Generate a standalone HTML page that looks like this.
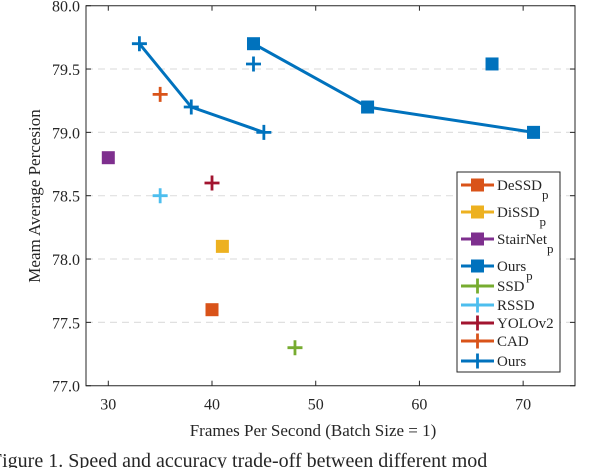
<!DOCTYPE html>
<html><head><meta charset="utf-8"><style>
html,body{margin:0;padding:0;background:#fff;overflow:hidden}
svg, svg text{font-family:"Liberation Serif","Times New Roman",serif}
svg text{fill:#262626}
</style></head><body>
<svg id="chart" width="610" height="468" viewBox="0 0 610 468" xmlns="http://www.w3.org/2000/svg" font-family="Liberation Serif, serif">
<g id="grid"></g>
<g id="marks"></g>
<g id="axes"></g>
<text x="313" y="436" font-size="17" font-family="Liberation Serif, serif" text-anchor="middle">Frames Per Second (Batch Size = 1)</text>
<text transform="translate(40,196) rotate(-90)" font-size="17" font-family="Liberation Serif, serif" text-anchor="middle">Meam Average Percesion</text>
<text x="-9" y="467" font-size="20" font-family="Liberation Serif, serif">Figure 1. Speed and accuracy trade-off between different mod</text>
<g id="legend"></g>
</svg>
<script>
const xTicks=[30,40,50,60,70];
const yTicks=[77.0,77.5,78.0,78.5,79.0,79.5,80.0];
const seriesNames=["DeSSD_p","DiSSD_p","StairNet_p","Ours_p","SSD","RSSD","YOLOv2","CAD","Ours"];
const seriesColors=["#D95319","#EDB120","#7E2F8E","#0072BD","#77AC30","#4DBEEE","#A2142F","#D95319","#0072BD"];
const seriesMarker=["sq","sq","sq","sq","plus","plus","plus","plus","plus"];
const deX=[40],deY=[77.6];
const diX=[41],diY=[78.1];
const stX=[30],stY=[78.8];
const oursPLineX=[44,55,71],oursPLineY=[79.7,79.2,79.0];
const oursPExtraX=[67],oursPExtraY=[79.54];
const ssdX=[48],ssdY=[77.3];
const rssdX=[35],rssdY=[78.5];
const yoloX=[40],yoloY=[78.6];
const cadX=[35],cadY=[79.3];
const oursLineX=[33,38,45],oursLineY=[79.7,79.2,79.0];
const oursExtraX=[44],oursExtraY=[79.54];

const L=86,R=575,T=5.7,B=385.7,XMIN=27.85,XMAX=75,YMIN=77,YMAX=80;
const FF="Liberation Serif, serif";
const sx=v=>L+(v-XMIN)/(XMAX-XMIN)*(R-L);
const sy=v=>B-(v-YMIN)/(YMAX-YMIN)*(B-T);
const NS="http://www.w3.org/2000/svg";
function mk(tag,attrs,parent){const e=document.createElementNS(NS,tag);for(const k in attrs)e.setAttribute(k,attrs[k]);parent.appendChild(e);return e;}
const grid=document.getElementById('grid'),marks=document.getElementById('marks'),axes=document.getElementById('axes'),leg=document.getElementById('legend');
yTicks.forEach(v=>{if(v>YMIN&&v<YMAX){const g=mk('line',{x1:L,x2:R,y1:sy(v),y2:sy(v),stroke:'#e0e0e0','stroke-width':1.2,'stroke-dasharray':'7,5'},grid);

}});
const frame=mk('path',{d:`M${L},${T}H${R}V${B}H${L}Z`,fill:'none',stroke:'#262626','stroke-width':1},axes);


xTicks.forEach(v=>{const x=sx(v);
mk('line',{x1:x,x2:x,y1:B,y2:B-5,stroke:'#262626'},axes);mk('line',{x1:x,x2:x,y1:T,y2:T+5,stroke:'#262626'},axes);
const t=mk('text',{x:x,y:B+24,'font-size':16,'font-family':FF,'text-anchor':'middle'},axes);t.textContent=v;

});
yTicks.forEach(v=>{const y=sy(v);
mk('line',{x1:L,x2:L+5,y1:y,y2:y,stroke:'#262626'},axes);mk('line',{x1:R,x2:R-5,y1:y,y2:y,stroke:'#262626'},axes);
const t=mk('text',{x:L-6,y:y+6,'font-size':16,'font-family':FF,'text-anchor':'end'},axes);t.textContent=v.toFixed(1);

});
function sq(x,y,c,p,s){return mk('rect',{x:x-s/2,y:y-s/2,width:s,height:s,fill:c},p);}
function plus(x,y,c,p,s){const g=mk('g',{},p);mk('path',{d:`M${x-s/2},${y}H${x+s/2}M${x},${y-s/2}V${y+s/2}`,stroke:c,'stroke-width':2.8,fill:'none'},g);return g;}
function line(xs,ys,c,name){const l=mk('polyline',{points:xs.map((v,i)=>sx(v)+','+sy(ys[i])).join(' '),fill:'none',stroke:c,'stroke-width':3},marks);

}
line(oursPLineX,oursPLineY,"#0072BD",'ours-p-line');
line(oursLineX,oursLineY,"#0072BD",'ours-line');
const groups=[[deX,deY,0],[diX,diY,1],[stX,stY,2],[oursPLineX,oursPLineY,3],[oursPExtraX,oursPExtraY,3],[ssdX,ssdY,4],[rssdX,rssdY,5],[yoloX,yoloY,6],[cadX,cadY,7],[oursLineX,oursLineY,8],[oursExtraX,oursExtraY,8]];
groups.forEach(([xs,ys,k])=>xs.forEach((v,i)=>{const e=seriesMarker[k]==='sq'?sq(sx(v),sy(ys[i]),seriesColors[k],marks,13):plus(sx(v),sy(ys[i]),seriesColors[k],marks,15);

}));
const box=mk('rect',{x:457,y:172,width:103,height:200,fill:'#fff',stroke:'#262626','stroke-width':1},leg);


const rowY=[185,212,239,266,286,305,323,341,361];
seriesNames.forEach((n,k)=>{const y=rowY[k];const g=mk('g',{},leg);


mk('line',{x1:461,x2:494,y1:y,y2:y,stroke:seriesColors[k],'stroke-width':3},g);
if(seriesMarker[k]==='sq')sq(477.5,y,seriesColors[k],g,13);else plus(477.5,y,seriesColors[k],g,15);
const t=mk('text',{x:497,y:y+5,'font-size':15,'font-family':FF},g);
if(n.endsWith('_p')){t.textContent=n.slice(0,-2);const s=mk('tspan',{dy:9,'font-size':13},t);s.textContent='p';}else t.textContent=n;});
</script>
</body></html>
